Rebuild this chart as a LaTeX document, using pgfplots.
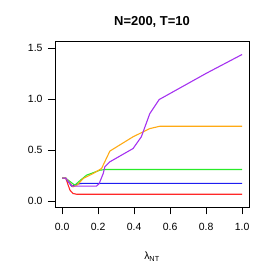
\documentclass[border=0pt]{standalone}
\usepackage{fontspec}
\setmainfont{Liberation Sans}
\usepackage{pgfplots}
\pgfplotsset{compat=1.18}
\definecolor{rgreen}{RGB}{40,235,40}
\definecolor{rblue}{RGB}{30,30,240}
\definecolor{rred}{RGB}{255,40,40}
\definecolor{rorange}{RGB}{255,170,20}
\definecolor{rpurple}{RGB}{165,50,240}
\begin{document}
\begin{tikzpicture}
\path[use as bounding box] (0,0) rectangle (277bp,277bp);
\begin{axis}[
  at={(55bp,69.7bp)}, anchor=south west,
  scale only axis, width=194.3bp, height=165.6bp,
  xmin=-0.04, xmax=1.04, ymin=-0.06, ymax=1.56,
  xtick={0,0.2,0.4,0.6,0.8,1.0}, ytick={0,0.5,1.0,1.5},
  xticklabels={0.0,0.2,0.4,0.6,0.8,1.0}, yticklabels={0.0,0.5,1.0,1.5},
  tick pos=left, tick align=outside, major tick length=7bp,
  tick style={black, line width=0.6pt},
  axis line style={line width=0.7pt},
  /pgf/number format/assume math mode=true,
  tick label style={font=\fontsize{10.5}{12}\selectfont},
  xticklabel style={yshift=-5bp},
  yticklabel style={xshift=-2bp},
  every axis plot/.append style={line width=1.1pt, no markers},
]
\addplot[rred] coordinates {(0,0.226)(0.02,0.224)(0.043,0.108)(0.06,0.075)(0.08,0.068)(1,0.068)};
\addplot[rblue] coordinates {(0,0.226)(0.02,0.224)(0.052,0.147)(0.08,0.166)(0.11,0.174)(1,0.174)};
\addplot[rgreen] coordinates {(0,0.226)(0.02,0.224)(0.07,0.156)(0.098,0.2)(0.135,0.254)(0.21,0.303)(0.24,0.31)(1,0.31)};
\addplot[rorange] coordinates {(0,0.226)(0.02,0.224)(0.06,0.14)(0.085,0.16)(0.117,0.222)(0.172,0.27)(0.219,0.32)(0.265,0.49)(0.394,0.63)(0.487,0.71)(0.543,0.733)(1,0.733)};
\addplot[rpurple] coordinates {(0,0.226)(0.02,0.224)(0.055,0.147)(0.19,0.147)(0.205,0.17)(0.228,0.27)(0.237,0.336)(0.265,0.385)(0.394,0.515)(0.44,0.63)(0.487,0.857)(0.539,0.994)(0.8,1.25)(1,1.435)};
\end{axis}
\node[font=\bfseries\fontsize{13}{15}\selectfont] at (152bp,255.3bp) {N=200, T=10};
\node[font=\fontsize{10.5}{12}\selectfont] at (152bp,20.3bp) {λ\textsubscript{NT}};
\end{tikzpicture}
\end{document}
